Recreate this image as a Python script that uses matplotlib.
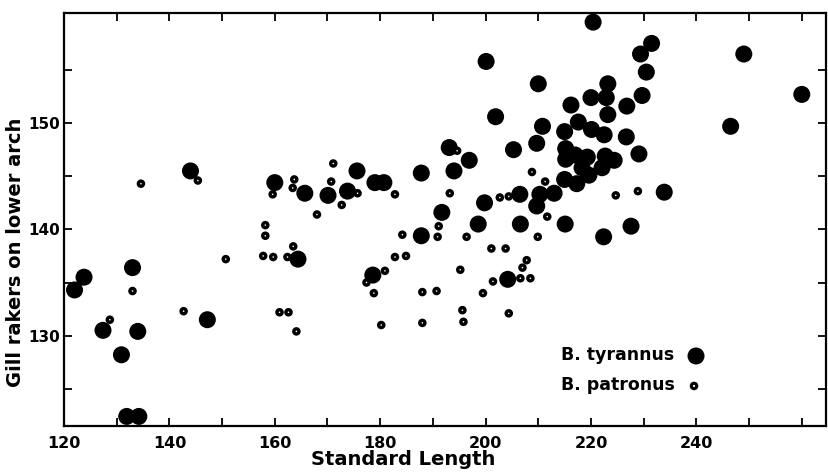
import matplotlib
matplotlib.use('Agg')
import matplotlib.pyplot as plt

# =============================================================================
# DATA
# =============================================================================
# B. tyrannus  (large dots)
tyr_length = [122.0, 123.8, 127.4, 134.0, 130.9, 131.9, 134.2, 133.0, 147.2, 144.0,
              160.0, 165.7, 170.1, 173.8, 175.6, 179.0, 180.7, 187.8, 187.8, 191.7,
              164.4, 178.6, 193.1, 196.9, 194.0, 200.1, 201.9, 199.8, 206.5, 198.6,
              206.6, 204.2, 205.3, 209.7, 210.0, 220.4, 210.3, 213.0, 209.7, 215.0,
              217.3, 219.6, 215.2, 215.2, 217.0, 219.3, 222.7, 224.4, 218.3, 222.1,
              216.2, 220.0, 222.9, 223.2, 217.6, 220.1, 215.0, 222.5, 226.8, 226.7,
              210.8, 229.1, 223.2, 229.7, 230.5, 229.4, 231.5, 249.0, 260.0, 246.5,
              233.9, 227.6, 222.4, 215.1]
tyr_rakers = [134.3, 135.5, 130.5, 130.4, 128.2, 122.4, 122.4, 136.4, 131.5, 145.5,
              144.4, 143.4, 143.2, 143.6, 145.5, 144.4, 144.4, 145.3, 139.4, 141.6,
              137.2, 135.7, 147.7, 146.5, 145.5, 155.8, 150.6, 142.5, 143.3, 140.5,
              140.5, 135.3, 147.5, 148.1, 153.7, 159.5, 143.3, 143.4, 142.2, 144.7,
              144.3, 145.1, 147.6, 146.6, 147.0, 146.8, 146.9, 146.5, 145.8, 145.8,
              151.7, 152.4, 152.4, 150.8, 150.1, 149.4, 149.2, 148.9, 151.6, 148.7,
              149.7, 147.1, 153.7, 152.6, 154.8, 156.5, 157.5, 156.5, 152.7, 149.7,
              143.5, 140.3, 139.3, 140.5]

# B. patronus  (small dots)
pat_length = [128.7, 133.0, 142.7, 134.6, 145.4, 150.7, 171.1, 170.7, 163.7, 163.4,
              159.6, 175.7, 172.7, 182.8, 168.0, 158.2, 158.2, 184.2, 190.9, 191.1,
              163.5, 157.8, 159.7, 162.4, 182.8, 184.9, 177.4, 180.9, 178.8, 188.0,
              190.7, 160.9, 162.6, 164.1, 180.2, 188.0, 194.6, 208.8, 193.2, 202.7,
              204.4, 211.3, 224.7, 228.9, 196.4, 211.7, 209.9, 201.1, 203.8, 195.2,
              206.6, 208.5, 207.0, 207.8, 201.4, 199.5, 195.6, 195.8, 204.4]
pat_rakers = [131.5, 134.2, 132.3, 144.3, 144.6, 137.2, 146.2, 144.5, 144.7, 143.9,
              143.3, 143.4, 142.3, 143.3, 141.4, 140.4, 139.4, 139.5, 139.3, 140.3,
              138.4, 137.5, 137.4, 137.4, 137.4, 137.5, 135.0, 136.1, 134.0, 134.1,
              134.2, 132.2, 132.2, 130.4, 131.0, 131.2, 147.4, 145.4, 143.4, 143.0,
              143.1, 144.5, 143.2, 143.6, 139.3, 141.2, 139.3, 138.2, 138.2, 136.2,
              135.4, 135.4, 136.4, 137.1, 135.1, 134.0, 132.4, 131.3, 132.1]

x_ticks = list(range(120, 261, 10))
x_labels = ['120', '', '140', '', '160', '', '180', '', '200', '', '220', '', '240', '', '']
y_ticks = list(range(125, 156, 5))
y_labels = ['', '130', '', '140', '', '150', '']

# =============================================================================
# STYLE
# =============================================================================
BIG_S   = 150
SMALL_S = 38
FONT    = 'DejaVu Sans'

plt.rcParams['font.family'] = FONT
plt.rcParams['font.weight'] = 'bold'

fig = plt.figure(figsize=(8.29, 4.73), dpi=100)
ax = fig.add_axes([0.0772, 0.0994, 0.9192, 0.874])

ax.scatter(tyr_length, tyr_rakers, s=BIG_S, color='black', edgecolors='none',
           zorder=3, clip_on=False)
ax.scatter(pat_length, pat_rakers, s=SMALL_S, color='black', edgecolors='none',
           zorder=4, clip_on=False)
ax.scatter(pat_length, pat_rakers, s=1.3, color='white', edgecolors='none',
           zorder=5, clip_on=False)

ax.set_xlim(120, 264.6)
ax.set_ylim(121.5, 160.4)

ax.set_xticks(x_ticks)
ax.set_xticklabels(x_labels, fontsize=11.5, fontweight='bold')
ax.set_yticks(y_ticks)
ax.set_yticklabels(y_labels, fontsize=11, fontweight='bold')
ax.tick_params(axis='both', direction='in', length=6, width=1.3,
               top=True, right=True)
ax.tick_params(axis='x', pad=7)
ax.tick_params(axis='y', pad=3)
for sp in ax.spines.values():
    sp.set_linewidth(1.6)

# axis titles sit off-centre in the scan
fig.text(16 / 829, 1 - 252 / 473, 'Gill rakers on lower arch', rotation=90,
         ha='center', va='center', fontsize=14, fontweight='bold')
fig.text(403 / 829, 1 - 459 / 473, 'Standard Length', ha='center', va='center',
         fontsize=14, fontweight='bold')

# legend drawn by hand: label first, marker after
ax.text(0.652, 0.1717, 'B. tyrannus', transform=ax.transAxes, ha='left',
        va='center', fontsize=12.5, fontweight='bold')
ax.text(0.652, 0.0992, 'B. patronus', transform=ax.transAxes, ha='left',
        va='center', fontsize=12.5, fontweight='bold')
ax.scatter([0.8294], [0.1693], s=BIG_S, color='black', edgecolors='none',
           transform=ax.transAxes)
ax.scatter([0.8268], [0.0968], s=SMALL_S, color='black', edgecolors='none',
           transform=ax.transAxes)
ax.scatter([0.8268], [0.0968], s=2.5, color='white', edgecolors='none',
           transform=ax.transAxes)

fig.savefig('out.png', dpi=100)
